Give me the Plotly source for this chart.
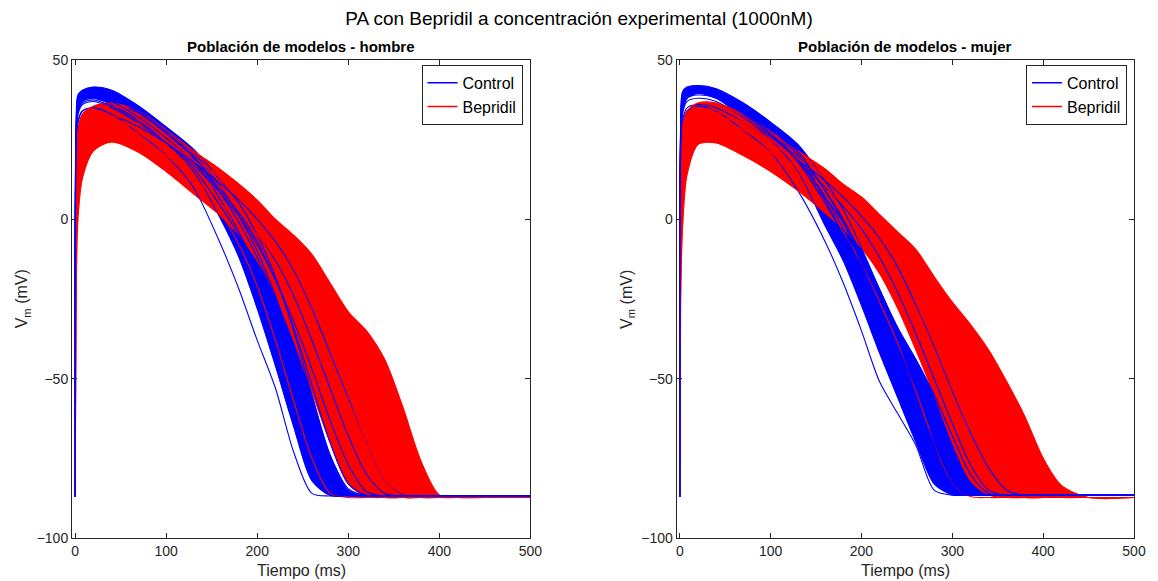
import plotly.graph_objects as go

# time grid (ms) shared by every trace
T = [0, 1, 3, 8, 20, 40, 70, 100, 130, 160, 180, 200, 220, 240, 260, 280, 300, 320, 340, 360, 380, 400, 420, 450, 500]

# ---- hombre: control (Vm, mV) ----
hombre_control = [
    [-87, 15, 30, 34, 35, 33, 27, 20, 10, -8, -22, -38, -53, -73, -86, -86.8, -86.8, -86.8, -86.8, -86.8, -86.8, -86.8, -86.8, -86.8, -86.8],
    [-87, 22, 34, 37, 38, 36, 31, 24, 15, 0, -12, -28, -46, -65, -82, -86.6, -86.8, -86.8, -86.8, -86.8, -86.8, -86.8, -86.8, -86.8, -86.8],
    [-87, 25, 36, 39, 40, 38, 33, 27, 19, 6, -4, -17, -33, -51, -70, -84, -86.7, -86.8, -86.8, -86.8, -86.8, -86.8, -86.8, -86.8, -86.8],
    [-87, 28, 38, 40, 41, 39, 34, 28, 21, 10, 1, -10, -24, -41, -60, -77, -86, -86.8, -86.8, -86.8, -86.8, -86.8, -86.8, -86.8, -86.8],
    [-87, 30, 39, 40.5, 41.5, 40.5, 35.5, 29, 22, 12, 5, -5, -18, -35, -55, -74, -85, -86.7, -86.8, -86.8, -86.8, -86.8, -86.8, -86.8, -86.8],
    [-87, 20, 33, 36, 37, 35, 30, 24, 17, 8, 2, -5, -13, -24, -38, -53, -68, -80, -86, -86.8, -86.8, -86.8, -86.8, -86.8, -86.8],
    [-87, 18, 31, 34, 35, 33, 29, 24, 18, 11, 6, 0, -7, -16, -28, -42, -56, -70, -82, -86.5, -86.8, -86.8, -86.8, -86.8, -86.8],
    [-87, 26, 37, 39.5, 40.5, 38.5, 33.5, 27, 19.5, 8, -1, -12, -25, -40, -57, -74, -84.5, -86.7, -86.8, -86.8, -86.8, -86.8, -86.8, -86.8, -86.8],
    [-87, 24, 35, 38, 39, 37, 32, 25.5, 18, 8, 1, -8, -19, -32, -47, -63, -77, -85.5, -86.8, -86.8, -86.8, -86.8, -86.8, -86.8, -86.8],
    [-87, 21, 33, 36.5, 37.5, 35.5, 30.5, 24, 16, 4, -5, -16, -30, -46, -63, -78, -86, -86.8, -86.8, -86.8, -86.8, -86.8, -86.8, -86.8, -86.8],
    [-87, 27, 37.5, 40, 41, 39, 34, 27.5, 20, 9, 2, -7, -19, -34, -52, -70, -83, -86.6, -86.8, -86.8, -86.8, -86.8, -86.8, -86.8, -86.8],
]

# ---- hombre: bepridil ----
hombre_bepridil = [
    [-87, 0, 20, 26, 29, 30, 27, 21, 13, 2, -8, -21, -38, -57, -75, -86, -87.3, -87.3, -87.3, -87.3, -87.3, -87.3, -87.3, -87.3, -87.3],
    [-87, -25, 0, 13, 21.5, 24.3, 21, 15, 8, 1, -5, -13, -24, -38, -54, -70, -83, -87, -87.3, -87.3, -87.3, -87.3, -87.3, -87.3, -87.3],
    [-87, -5, 15, 24, 28, 29, 26, 20, 13, 5, -1, -9, -19, -32, -47, -63, -78, -86, -87.3, -87.3, -87.3, -87.3, -87.3, -87.3, -87.3],
    [-87, 5, 22, 28, 31, 31.5, 28.5, 23, 17, 10, 5, -1, -9, -19, -31, -45, -61, -76, -85.5, -87.3, -87.3, -87.3, -87.3, -87.3, -87.3],
    [-87, 10, 25, 30, 33, 33.5, 31, 25.5, 19.5, 13, 8, 3, -4, -12, -22, -34, -48, -63, -77, -86, -87.3, -87.3, -87.3, -87.3, -87.3],
    [-87, 12, 27, 32, 35, 35.5, 33, 27, 21, 15, 10.5, 5, -1, -8, -17, -28, -40, -54, -68, -80, -86.5, -87.3, -87.3, -87.3, -87.3],
    [-87, 14, 28, 33, 35.5, 36.5, 34, 28, 21.5, 15.5, 11, 6, 0, -5, -11, -20, -29, -35, -44, -59, -76, -86.5, -87.3, -87.3, -87.3],
    [-87, 3, 21, 27, 30, 31, 28, 22.5, 16, 8, 2, -5, -14, -26, -40, -56, -71, -83, -87, -87.3, -87.3, -87.3, -87.3, -87.3, -87.3],
    [-87, 8, 24, 29.5, 32, 32.5, 30, 24.5, 18.5, 12, 7, 1.5, -5.5, -15, -27, -40, -55, -70, -82, -86.8, -87.3, -87.3, -87.3, -87.3, -87.3],
]

# ---- mujer: control ----
mujer_control = [
    [-87, 15, 30, 34, 35.5, 34, 28, 21, 9, -7, -20, -35, -51, -61, -71, -85, -86.6, -86.6, -86.6, -86.6, -86.6, -86.6, -86.6, -86.6, -86.6],
    [-87, 22, 34, 38, 39.5, 38, 32, 25, 15, -2, -13, -27, -42, -56, -70, -83, -86.4, -86.6, -86.6, -86.6, -86.6, -86.6, -86.6, -86.6, -86.6],
    [-87, 25, 37, 40, 41, 39.5, 34, 27.5, 19, 6, -5, -19, -34, -48, -61, -74, -84, -86.5, -86.6, -86.6, -86.6, -86.6, -86.6, -86.6, -86.6],
    [-87, 28, 39, 41, 41.5, 40.5, 35.5, 29.5, 21.5, 9, -1, -14, -27, -40, -53, -67, -80, -86, -86.6, -86.6, -86.6, -86.6, -86.6, -86.6, -86.6],
    [-87, 30, 40, 41.5, 42, 41, 36.5, 30.5, 23.5, 12, 3, -9, -22, -34, -44, -55, -68, -80, -86, -86.6, -86.6, -86.6, -86.6, -86.6, -86.6],
    [-87, 20, 33, 37, 38, 37, 32, 26, 19, 10, 4, -3, -12, -23, -36, -50, -64, -77, -85, -86.6, -86.6, -86.6, -86.6, -86.6, -86.6],
    [-87, 18, 31, 35, 36, 35, 30.5, 25, 19, 12, 7, 1, -6, -15, -27, -40, -54, -67, -78, -85, -86.6, -86.6, -86.6, -86.6, -86.6],
    [-87, 26, 38, 40.5, 41, 40, 35, 28.5, 20, 7, -3, -16, -30, -44, -57, -70, -82, -86.3, -86.6, -86.6, -86.6, -86.6, -86.6, -86.6, -86.6],
    [-87, 24, 36, 39, 40, 39, 33.5, 27, 18.5, 7, -1, -11, -22, -35, -48, -62, -75, -84, -86.5, -86.6, -86.6, -86.6, -86.6, -86.6, -86.6],
    [-87, 21, 34, 38, 39, 38, 33, 26.5, 18, 5, -5, -17, -31, -45, -59, -72, -83, -86.4, -86.6, -86.6, -86.6, -86.6, -86.6, -86.6, -86.6],
    [-87, 27, 38.5, 41, 41.5, 40.5, 35.5, 29, 21, 9, 0, -11, -23, -36, -50, -64, -77, -85, -86.6, -86.6, -86.6, -86.6, -86.6, -86.6, -86.6],
]

# ---- mujer: bepridil ----
mujer_bepridil = [
    [-87, 0, 20, 27, 30, 30.5, 27, 21, 13, 4, -4, -14, -26, -39, -54, -70, -83, -87, -87.3, -87.3, -87.3, -87.3, -87.3, -87.3, -87.3],
    [-87, -25, -3, 14, 23.5, 24, 20, 15, 9, 2, -3, -9, -17, -28, -41, -55, -70, -82, -86.5, -87.3, -87.3, -87.3, -87.3, -87.3, -87.3],
    [-87, -5, 15, 25, 29, 30, 26.5, 21, 14.5, 8, 3, -3, -11, -21, -33, -47, -62, -76, -85, -87, -87.3, -87.3, -87.3, -87.3, -87.3],
    [-87, 5, 22, 29, 32, 32.5, 29.5, 24, 18, 11.5, 7, 2, -5, -13, -23, -35, -49, -63, -76, -85, -87.2, -87.3, -87.3, -87.3, -87.3],
    [-87, 10, 25, 31, 34, 34.5, 31.5, 26, 20, 14, 9.5, 5, -1, -8, -16, -26, -38, -51, -64, -76, -84.5, -87, -87.3, -87.3, -87.3],
    [-87, 12, 27, 33, 36, 36, 32.5, 27, 21, 15, 10.5, 6, 0.5, -5.5, -12, -20, -30, -41, -53, -66, -77, -84.5, -86.8, -87.3, -87.3],
    [-87, 14, 29, 34, 36.5, 36.5, 33, 27.5, 21.5, 15.8, 11, 7, 1.5, -4, -9.5, -18, -26, -33, -41, -51, -62, -75, -83.5, -87.3, -87.3],
    [-87, 3, 21, 28, 31, 31.5, 28, 22.5, 16, 9.5, 5, -1, -8, -17, -28, -41, -55, -69, -80, -86, -87.3, -87.3, -87.3, -87.3, -87.3],
    [-87, 8, 24, 30, 33, 33.5, 30.5, 25, 19, 13, 8.5, 3.5, -3, -10.5, -19.5, -30, -43, -57, -70, -80, -86, -87.2, -87.3, -87.3, -87.3],
]

for grp in (hombre_control, hombre_bepridil, mujer_control, mujer_bepridil):
    for tr in grp:
        assert len(tr) == len(T), len(tr)

BLUE = "#0000FF"
RED = "#FF0000"
AX = "#262626"
SPLINE = dict(shape="spline", smoothing=0.8)

fig = go.Figure()


def add_panel(control, drug, xa, ya, legend_name, core_blue=(1, 4), core_red=(1, 6)):
    # dense cores of each population, drawn as bands
    for group, (lo, hi), col in ((control, core_blue, BLUE), (drug, core_red, RED)):
        fig.add_trace(go.Scatter(x=T, y=group[lo], mode="lines", line=dict(color=col, width=0.5, **SPLINE),
                                 xaxis=xa, yaxis=ya, showlegend=False, hoverinfo="skip"))
        fig.add_trace(go.Scatter(x=T, y=group[hi], mode="lines", line=dict(color=col, width=0.5, **SPLINE),
                                 fill="tonexty", fillcolor=col, xaxis=xa, yaxis=ya,
                                 showlegend=False, hoverinfo="skip"))
    # individual models, control and drug interleaved
    n = max(len(control), len(drug))
    for i in range(n):
        if i < len(control):
            fig.add_trace(go.Scatter(x=T, y=control[i], mode="lines", line=dict(color=BLUE, width=1.1, **SPLINE),
                                     xaxis=xa, yaxis=ya, showlegend=False, hoverinfo="skip"))
        if i < len(drug):
            fig.add_trace(go.Scatter(x=T, y=drug[i], mode="lines", line=dict(color=RED, width=1.1, **SPLINE),
                                     xaxis=xa, yaxis=ya, showlegend=False, hoverinfo="skip"))
    # legend entries
    for name, col in (("Control", BLUE), ("Bepridil", RED)):
        fig.add_trace(go.Scatter(x=[None], y=[None], mode="lines", name=name, line=dict(color=col, width=1.5),
                                 xaxis=xa, yaxis=ya, legend=legend_name, showlegend=True))


add_panel(hombre_control, hombre_bepridil, "x", "y", "legend")
add_panel(mujer_control, mujer_bepridil, "x2", "y2", "legend2")

axis_common = dict(showline=True, linecolor=AX, linewidth=1, mirror="ticks", ticks="inside",
                   ticklen=5, tickcolor=AX, tickfont=dict(size=14, color=AX),
                   showgrid=False, zeroline=False)

leg_common = dict(font=dict(size=16, color="black"), bgcolor="white", bordercolor=AX, borderwidth=1,
                  xanchor="right", yanchor="top", y=0.99, tracegroupgap=0, itemwidth=30,
                  traceorder="normal")

fig.update_layout(
    width=1158, height=581,
    margin=dict(l=72, r=18, t=60, b=43),
    paper_bgcolor="white", plot_bgcolor="white",
    font=dict(family="Liberation Sans, Arial, sans-serif", color=AX),
    title=dict(text="PA con Bepridil a concentración experimental (1000nM)", x=0.5, xanchor="center",
               y=0.969, yanchor="middle", font=dict(size=19, color="black")),
    xaxis=dict(domain=[0, 0.4316], range=[-3.5, 500], tickvals=[0, 100, 200, 300, 400, 500], anchor="y", **axis_common),
    yaxis=dict(domain=[0, 1], range=[-100, 50], tickvals=[-100, -50, 0, 50], anchor="x", **axis_common),
    xaxis2=dict(domain=[0.5693, 1], range=[-3.5, 500], tickvals=[0, 100, 200, 300, 400, 500], anchor="y2", **axis_common),
    yaxis2=dict(domain=[0, 1], range=[-100, 50], tickvals=[-100, -50, 0, 50], anchor="x2", **axis_common),
    legend=dict(x=0.4242, **leg_common),
    legend2=dict(x=0.9934, **leg_common),
)

annotations = [
    dict(text="<b>Población de modelos - hombre</b>", x=0.2158, y=1.029, xref="paper", yref="paper",
         showarrow=False, xanchor="center", yanchor="middle", font=dict(size=15, color="black")),
    dict(text="<b>Población de modelos - mujer</b>", x=0.7847, y=1.029, xref="paper", yref="paper",
         showarrow=False, xanchor="center", yanchor="middle", font=dict(size=15, color="black")),
    dict(text="Tiempo (ms)", x=0.2158, y=-0.068, xref="paper", yref="paper", showarrow=False,
         xanchor="center", yanchor="middle", font=dict(size=16, color=AX)),
    dict(text="Tiempo (ms)", x=0.7847, y=-0.068, xref="paper", yref="paper", showarrow=False,
         xanchor="center", yanchor="middle", font=dict(size=16, color=AX)),
    dict(text="V<sub>m</sub> (mV)", x=-0.0468, y=0.5, xref="paper", yref="paper", showarrow=False,
         textangle=-90, xanchor="center", yanchor="middle", font=dict(size=16, color=AX)),
    dict(text="V<sub>m</sub> (mV)", x=0.5225, y=0.5, xref="paper", yref="paper", showarrow=False,
         textangle=-90, xanchor="center", yanchor="middle", font=dict(size=16, color=AX)),
]
fig.update_layout(annotations=annotations)

# drop the page's default body margin so the figure sits at the window corner
fig.write_html("out.html", config={"displayModeBar": False},
               post_script="document.body.style.margin='0';document.body.style.overflow='hidden';")
